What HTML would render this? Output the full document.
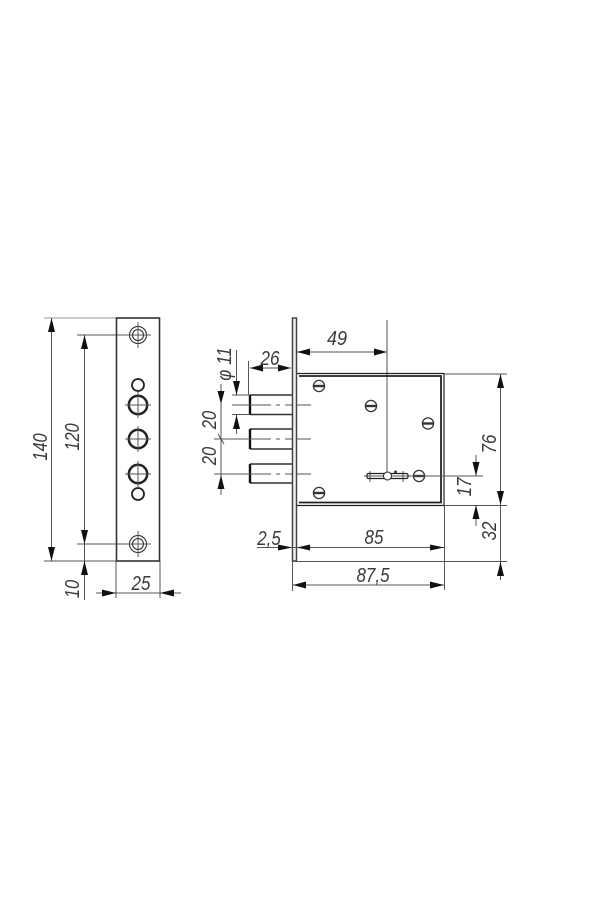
<!DOCTYPE html>
<html><head><meta charset="utf-8"><style>
html,body{margin:0;padding:0;background:#fff}
svg{display:block}
text{font-family:"Liberation Sans",sans-serif;font-style:italic;font-size:20px;fill:#3a3a3a;text-anchor:middle}
.d line,.d path{stroke:#555;stroke-width:1;fill:none}
.a polygon{fill:#111}
</style></head><body>
<svg width="600" height="900" viewBox="0 0 600 900" xmlns="http://www.w3.org/2000/svg">
<rect width="600" height="900" fill="#fff"/>
<defs>
<g id="h" class="d"><line x1="-13" x2="13" y1="0" y2="0"/><line y1="-13" y2="13" x1="0" x2="0"/></g>
<g id="s"><circle r="5.6" fill="#fff" stroke="#333" stroke-width="1.3"/><rect x="-5.500" y="-1.200" width="11" height="2.400" fill="#333"/></g>
</defs>

<!-- left plate -->
<g class="d">
<line x1="44" y1="318" x2="116" y2="318" style="stroke:#999"/>
<line x1="44" y1="561" x2="116" y2="561"/>
<line x1="51.5" y1="318" x2="51.5" y2="561"/>
<line x1="77" y1="335" x2="138" y2="335"/>
<line x1="77" y1="544" x2="138" y2="544"/>
<line x1="84.5" y1="335" x2="84.5" y2="600"/>
<line x1="116" y1="561" x2="116" y2="598"/>
<line x1="160" y1="561" x2="160" y2="598"/>
<line x1="96" y1="593" x2="181" y2="593"/>
</g>
<rect x="116.5" y="318" width="43" height="243" fill="none" stroke="#333" stroke-width="1.6"/>
<g fill="none" stroke="#222">
<circle cx="138" cy="335" r="8.5" stroke-width="1"/><circle cx="138" cy="335" r="5.5" stroke-width="1"/>
<circle cx="138" cy="544" r="8.5" stroke-width="1"/><circle cx="138" cy="544" r="5.5" stroke-width="1"/>
<circle cx="138" cy="385" r="6" stroke-width="1.8"/><circle cx="138" cy="494" r="6" stroke-width="1.8"/>
<circle cx="138" cy="405" r="9.2" stroke-width="2.500"/><circle cx="138" cy="439" r="9.2" stroke-width="2.500"/><circle cx="138" cy="474" r="9.2" stroke-width="2.500"/>
</g>
<use href="#h" x="138" y="335"/><use href="#h" x="138" y="544"/><use href="#h" x="138" y="405"/><use href="#h" x="138" y="439"/><use href="#h" x="138" y="474"/>
<g class="a">
<polygon points="51.5,318 48,332 55,332"/><polygon points="51.5,561 48,547 55,547"/>
<polygon points="84.5,335 81,349 88,349"/><polygon points="84.5,544 81,530 88,530"/>
<polygon points="84.5,561 81,575 88,575"/>
<polygon points="116,593 102,589.500 102,596.500"/><polygon points="160,593 174,589.500 174,596.500"/>
</g>
<text transform="translate(47,447) rotate(-90) scale(.82,1)">140</text>
<text transform="translate(79,437) rotate(-90) scale(.82,1)">120</text>
<text transform="translate(79,589) rotate(-90) scale(.82,1)">10</text>
<text transform="translate(141,590) scale(.85,1)">25</text>

<!-- bolts -->
<g fill="none" stroke="#333" stroke-width="1.400">
<path d="M250 395H292M250 414.5H292M250 429H292M250 449H292M250 464H292M250 483H292"/>
</g>
<g stroke="#111" stroke-width="2.400" fill="none"><path d="M250 395V414.5M250 429V449M250 464V483"/></g>
<g class="d">
<path d="M232 405H271M276 405H280M285 405H311M214 439H271M276 439H280M285 439H311M214 474H271M276 474H280M285 474H311"/>
<line x1="232" y1="395" x2="250" y2="395"/><line x1="232" y1="414.5" x2="250" y2="414.5"/>
<line x1="236.500" y1="350" x2="236.500" y2="395"/><line x1="236.500" y1="414.500" x2="236.500" y2="434"/>
<line x1="221" y1="384" x2="221" y2="495"/>
<line x1="218" y1="434" x2="224" y2="444"/>
<line x1="248.500" y1="361" x2="248.500" y2="395"/>
<line x1="250" y1="368" x2="291" y2="368"/>
<line x1="296" y1="352" x2="387" y2="352"/>
<line x1="387" y1="320" x2="387" y2="480"/>
</g>
<g class="a">
<polygon points="236.500,395 233,381 240,381"/><polygon points="236.500,415 233,429 240,429"/>
<polygon points="221,404 217.500,391 224.500,391"/><polygon points="221,475 217.500,489 224.500,489"/>
<polygon points="250,368 263,364.500 263,371.500"/><polygon points="291,368 278,364.500 278,371.500"/>
<polygon points="297,352 310,348.500 310,355.500"/><polygon points="387,352 374,348.500 374,355.500"/>
</g>
<text transform="translate(231,364) rotate(-90) scale(.85,1)">&#966; 11</text>
<text transform="translate(270,365) scale(.85,1)">26</text>
<text transform="translate(216,420) rotate(-90) scale(.82,1)">20</text>
<text transform="translate(216,456) rotate(-90) scale(.82,1)">20</text>
<text transform="translate(337,345) scale(.9,1)">49</text>

<!-- body -->
<rect x="292.500" y="318" width="4" height="243" fill="#f4f4f4" stroke="#444" stroke-width="1.500"/>
<g fill="none" stroke="#222">
<path d="M297 373.500H444V505.500H297" stroke-width="1.200"/>
<path d="M299 376H441V502.500H299" stroke-width="1.800"/>
</g>
<use href="#s" x="319" y="386"/><use href="#s" x="371" y="406"/><use href="#s" x="428" y="423.500"/><use href="#s" x="419" y="476"/><use href="#s" x="319" y="493"/>
<g class="d">
<line x1="364" y1="476" x2="483" y2="476"/>
<line x1="370" y1="471" x2="370" y2="482"/><line x1="403" y1="471" x2="403" y2="482"/>
</g>
<rect x="367" y="473.500" width="41" height="5" rx="1.500" fill="none" stroke="#222" stroke-width="1.200"/>
<circle cx="387.500" cy="476" r="4" fill="#fff" stroke="#222"/>
<circle cx="395.500" cy="472" r="1.500" fill="#333"/>

<!-- right dims -->
<g class="d">
<line x1="444" y1="374" x2="507" y2="374"/>
<line x1="444" y1="505.500" x2="507" y2="505.500"/>
<line x1="292" y1="561.500" x2="507" y2="561.500"/>
<line x1="444.500" y1="505" x2="444.500" y2="590"/>
<line x1="292.500" y1="561" x2="292.500" y2="591"/>
<line x1="500.500" y1="374" x2="500.500" y2="580"/>
<line x1="476" y1="455" x2="476" y2="476"/><line x1="476" y1="505" x2="476" y2="526"/>
<line x1="257" y1="547.500" x2="444" y2="547.500"/>
<line x1="292" y1="585" x2="444" y2="585"/>
</g>
<g class="a">
<polygon points="500.500,374 497,388 504,388"/><polygon points="500.500,505 497,491 504,491"/><polygon points="500.500,562 497,576 504,576"/>
<polygon points="476,476 472.500,462 479.500,462"/><polygon points="476,505 472.500,519 479.500,519"/>
<polygon points="292,547.500 278,544.500 278,550.500"/><polygon points="297,547.500 310,544.500 310,550.500"/><polygon points="444,547.500 430,544.500 430,550.500"/>
<polygon points="293,585 306,581.500 306,588.500"/><polygon points="444,585 430,581.500 430,588.500"/>
</g>
<text transform="translate(269,545) scale(.85,1)">2,5</text>
<text transform="translate(374,544) scale(.85,1)">85</text>
<text transform="translate(373,582) scale(.85,1)">87,5</text>
<text transform="translate(496,444) rotate(-90) scale(.85,1)">76</text>
<text transform="translate(471,487) rotate(-90) scale(.85,1)">17</text>
<text transform="translate(496,531) rotate(-90) scale(.85,1)">32</text>
</svg>
</body></html>
